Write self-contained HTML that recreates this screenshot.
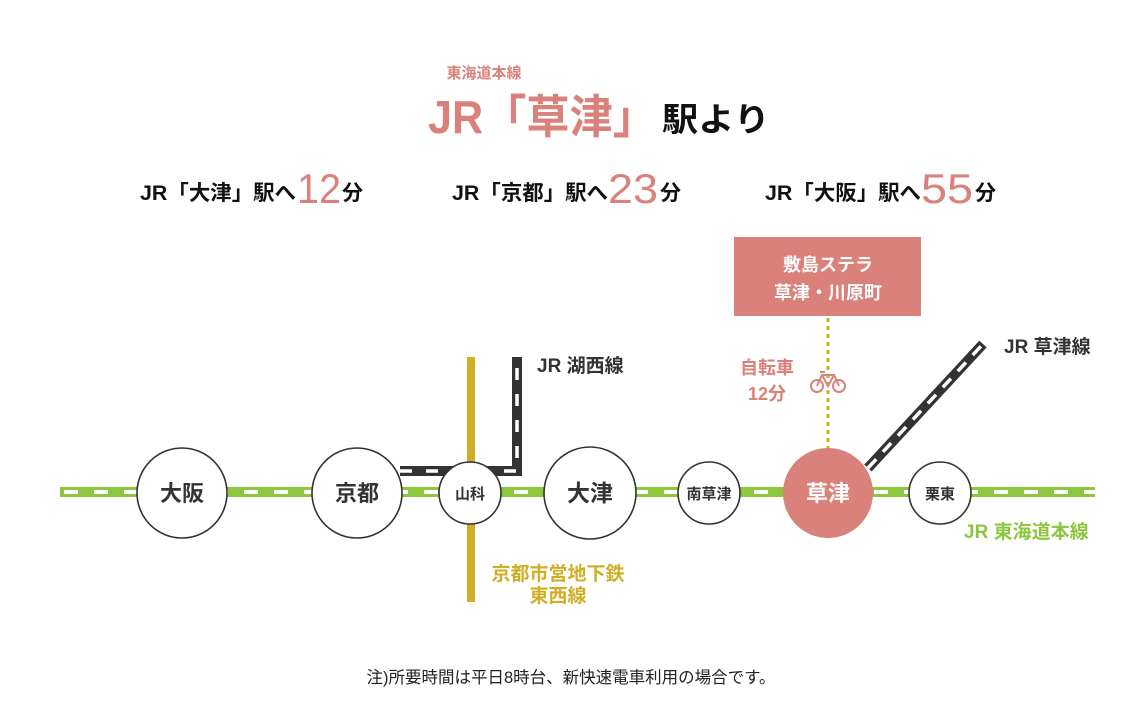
<!DOCTYPE html>
<html><head><meta charset="utf-8"><style>
html,body{margin:0;padding:0;background:#fff;}
svg{display:block;}
text{font-family:"Liberation Sans","Noto Sans CJK JP",sans-serif;font-weight:bold;}
text.n{font-weight:normal;}
</style></head><body>
<svg width="1140" height="722" viewBox="0 0 1140 722" xmlns="http://www.w3.org/2000/svg">
<text x="484" y="78" font-size="15" fill="#d9817a" text-anchor="middle">東海道本線</text>
<text x="428" y="133" font-size="46" fill="#d9817a" textLength="228" lengthAdjust="spacingAndGlyphs">JR「草津」</text>
<text x="662" y="131" font-size="33" fill="#111" textLength="108" lengthAdjust="spacingAndGlyphs">駅より</text>

<text x="140" y="200" font-size="21" fill="#111" textLength="156" lengthAdjust="spacingAndGlyphs">JR「大津」駅へ</text>
<text class="n" x="297" y="203" font-size="42" fill="#d9817a" textLength="44" lengthAdjust="spacingAndGlyphs">12</text>
<text x="342" y="200" font-size="21" fill="#111">分</text>

<text x="452" y="200" font-size="21" fill="#111" textLength="156" lengthAdjust="spacingAndGlyphs">JR「京都」駅へ</text>
<text class="n" x="608" y="203" font-size="42" fill="#d9817a" textLength="50" lengthAdjust="spacingAndGlyphs">23</text>
<text x="660" y="200" font-size="21" fill="#111">分</text>

<text x="765" y="200" font-size="21" fill="#111" textLength="156" lengthAdjust="spacingAndGlyphs">JR「大阪」駅へ</text>
<text class="n" x="921" y="203" font-size="42" fill="#d9817a" textLength="52" lengthAdjust="spacingAndGlyphs">55</text>
<text x="975" y="200" font-size="21" fill="#111">分</text>

<rect x="734" y="237" width="187" height="79" fill="#d9817a"/>
<text x="828" y="271" font-size="18" fill="#fff" text-anchor="middle">敷島ステラ</text>
<text x="828" y="299" font-size="18" fill="#fff" text-anchor="middle">草津・川原町</text>
<line x1="828" y1="318" x2="828" y2="450" stroke="#cfae25" stroke-width="3" stroke-dasharray="4,4"/>
<text x="767" y="374" font-size="18" fill="#d9817a" text-anchor="middle">自転車</text>
<text x="767" y="400" font-size="18" fill="#d9817a" text-anchor="middle">12分</text>
<g fill="none" stroke="#d9817a" stroke-width="2">
<circle cx="817" cy="386" r="6"/><circle cx="839" cy="386" r="6"/>
<path d="M817 386 L822 375 L834 375 L839 386 M822 375 L828 386 L834 375 M820 372 L825 372"/>
</g>

<line x1="60" y1="492" x2="1095" y2="492" stroke="#8dc63f" stroke-width="10"/>
<line x1="64" y1="492" x2="1095" y2="492" stroke="#fff" stroke-width="4" stroke-dasharray="14,16"/>

<line x1="471" y1="357" x2="471" y2="602" stroke="#cfae25" stroke-width="8"/>
<text x="558" y="580" font-size="19" fill="#cfae25" text-anchor="middle">京都市営地下鉄</text>
<text x="558" y="602" font-size="19" fill="#cfae25" text-anchor="middle">東西線</text>

<path d="M400 471 L517 471 L517 357" fill="none" stroke="#333" stroke-width="10"/>
<path d="M400 471 L517 471 L517 357" fill="none" stroke="#fff" stroke-width="3.5" stroke-dasharray="12,14"/>
<text x="537" y="372" font-size="19" fill="#333">JR 湖西線</text>

<line x1="868" y1="468" x2="983" y2="344" stroke="#333" stroke-width="10"/>
<line x1="868" y1="468" x2="983" y2="344" stroke="#fff" stroke-width="3.5" stroke-dasharray="12,10"/>
<text x="1004" y="353" font-size="19" fill="#333">JR 草津線</text>

<text x="964" y="538" font-size="19" fill="#8dc63f">JR 東海道本線</text>

<g fill="#fff" stroke="#333" stroke-width="1.6">
<circle cx="182" cy="493" r="45"/>
<circle cx="357" cy="493" r="45"/>
<circle cx="470" cy="493" r="31"/>
<circle cx="590" cy="493" r="46"/>
<circle cx="709" cy="493" r="31"/>
<circle cx="940" cy="493" r="31"/>
</g>
<circle cx="828" cy="493" r="45" fill="#d9817a"/>
<text x="182" y="501" font-size="22" fill="#333" text-anchor="middle">大阪</text>
<text x="357" y="501" font-size="22" fill="#333" text-anchor="middle">京都</text>
<text x="470" y="499" font-size="15" fill="#333" text-anchor="middle">山科</text>
<text x="590" y="501" font-size="23" fill="#333" text-anchor="middle">大津</text>
<text x="709" y="499" font-size="15" fill="#333" text-anchor="middle">南草津</text>
<text x="828" y="501" font-size="22" fill="#fff" text-anchor="middle">草津</text>
<text x="940" y="499" font-size="15" fill="#333" text-anchor="middle">栗東</text>

<text class="n" x="571" y="683" font-size="16.5" fill="#222" text-anchor="middle">注)所要時間は平日8時台、新快速電車利用の場合です。</text>
</svg>
</body></html>
